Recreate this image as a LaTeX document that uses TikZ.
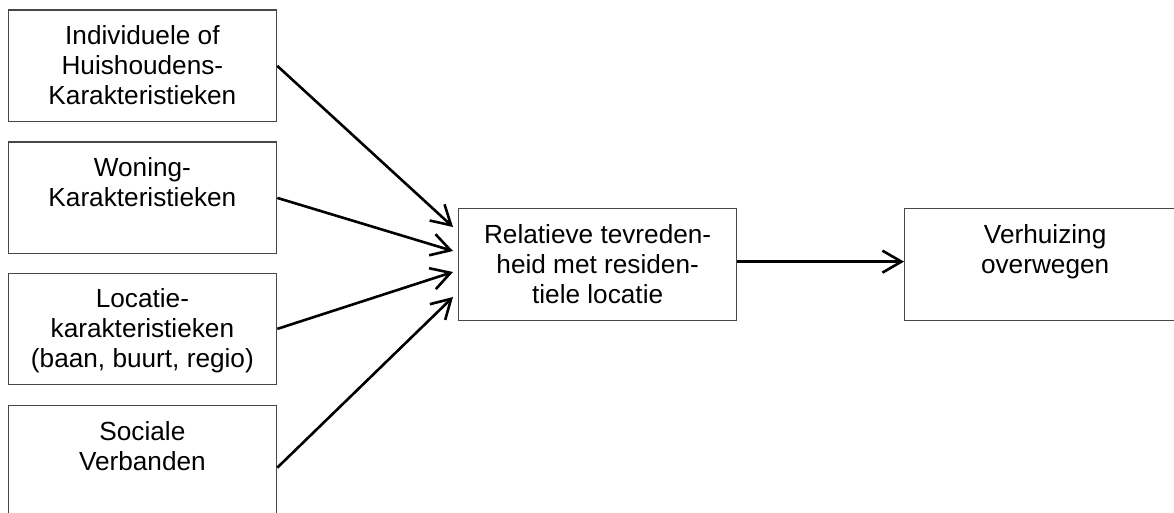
\documentclass[tikz,border=0pt]{standalone}
\usepackage{fontspec}
\setmainfont{Liberation Sans}
\usetikzlibrary{arrows.meta}
\newcommand{\stacklines}[1]{\begin{tabular}[t]{@{}c@{}}#1\end{tabular}}
\begin{document}
\begin{tikzpicture}[x=1pt,y=-1pt,
  box/.style={draw=black!72, line width=1.3pt, rectangle, inner sep=0pt, anchor=north west},
  lbl/.style={anchor=base, inner sep=0pt, font=\fontsize{26.2}{30.1}\selectfont},
  link/.style={line width=2.6pt, -{Straight Barb[length=19pt,width=22pt]}}
]
\useasboundingbox (0,0) rectangle (1174,513);

% factor boxes on the left
\node[box, minimum width=268.5pt, minimum height=111.5pt] (b1) at (7.5,9.5) {};
\node[box, minimum width=268.5pt, minimum height=111.5pt] (b2) at (7.5,141.5) {};
\node[box, minimum width=268.5pt, minimum height=111.5pt] (b3) at (7.5,272.5) {};
\node[box, minimum width=268.5pt, minimum height=124pt] (b4) at (7.5,405) {};

% satisfaction and outcome boxes
\node[box, minimum width=278pt, minimum height=112pt] (sat) at (458,208) {};
\node[box, minimum width=281pt, minimum height=112pt] (mov) at (904,208) {};

% box texts, first baseline 35 below the top edge
\node[lbl] at ([yshift=-35pt]b1.north) {\stacklines{Individuele of\\Huishoudens-\\Karakteristieken}};
\node[lbl] at ([yshift=-35pt]b2.north) {\stacklines{Woning-\\Karakteristieken}};
\node[lbl] at ([yshift=-35pt]b3.north) {\stacklines{Locatie-\\karakteristieken\\(baan, buurt, regio)}};
\node[lbl] at ([yshift=-35pt]b4.north) {\stacklines{Sociale\\Verbanden}};
\node[lbl] at ([yshift=-35pt]sat.north) {\stacklines{Relatieve tevreden-\\heid met residen-\\tiele locatie}};
\node[lbl] at ([yshift=-35pt]mov.north) {\stacklines{Verhuizing\\overwegen}};

% arrow tips in front of the satisfaction box
\coordinate (t1) at (453,227);
\coordinate (t2) at (453,251);
\coordinate (t3) at (453,272);
\coordinate (t4) at (453,297);

\draw[link] (b1.east) -- (t1);
\draw[link] (b2.east) -- (t2);
\draw[link] (b3.east) -- (t3);
\draw[link] (b4.east) -- (t4);
\draw[link] ([yshift=3pt]sat.east) -- ([yshift=3pt]mov.west);
\end{tikzpicture}
\end{document}
